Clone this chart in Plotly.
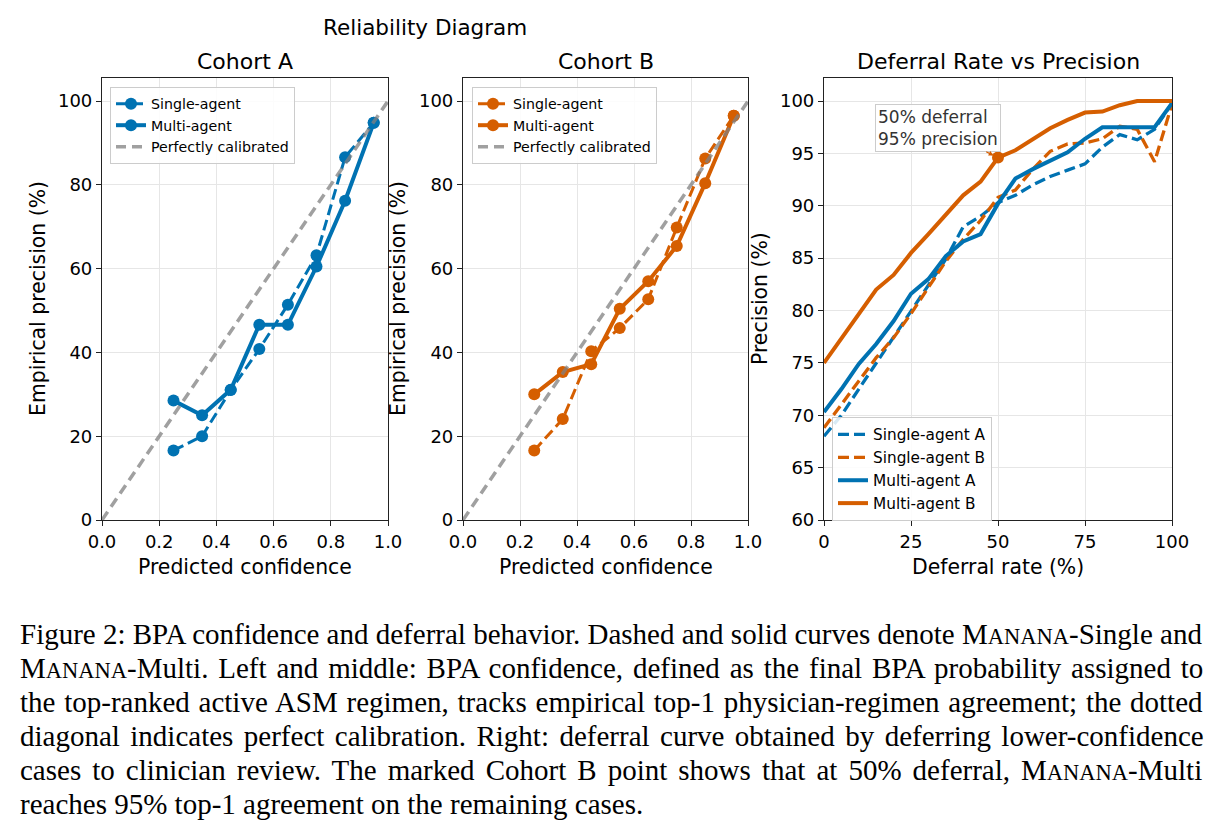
import plotly.graph_objects as go

# ---------------- data ----------------
confidence = [0.25, 0.35, 0.45, 0.55, 0.65, 0.75, 0.85, 0.95]
single_A = [16.6, 20.0, 31.0, 40.8, 51.4, 63.2, 86.6, 94.8]
multi_A = [28.5, 25.0, 31.1, 46.6, 46.6, 60.5, 76.2, 94.8]
single_B = [16.6, 24.1, 40.3, 45.8, 52.7, 69.8, 86.3, 96.5]
multi_B = [30.0, 35.3, 37.2, 50.4, 57.0, 65.4, 80.4, 96.5]
diag_x = [0.0, 1.0]
diag_y = [0.0, 100.0]

deferral = [0, 5, 10, 15, 20, 25, 30, 35, 40, 45, 50, 55, 60, 65, 70, 75, 80, 85, 90, 95, 100]
def_single_A = [68.0, 70.0, 72.5, 75.0, 77.4, 80.0, 82.5, 84.9, 88.0, 89.0, 90.3, 91.0, 92.0, 92.8, 93.4, 94.0, 95.6, 96.8, 96.3, 97.3, 99.8]
def_single_B = [68.8, 71.0, 73.3, 75.5, 77.4, 79.7, 82.2, 84.7, 86.8, 88.6, 90.8, 91.5, 93.5, 95.2, 95.9, 96.0, 96.4, 97.6, 97.3, 94.2, 99.7]
def_multi_A = [70.3, 72.5, 74.9, 76.8, 79.0, 81.6, 83.0, 85.2, 86.6, 87.3, 90.2, 92.6, 93.5, 94.3, 95.1, 96.4, 97.5, 97.5, 97.5, 97.5, 99.8]
def_multi_B = [75.0, 77.3, 79.6, 82.0, 83.4, 85.5, 87.3, 89.2, 91.0, 92.3, 94.6, 95.3, 96.4, 97.4, 98.2, 98.9, 99.0, 99.6, 100.0, 100.0, 100.0]
marked_x = [50]
marked_y = [94.6]

conf_ticks = [0.0, 0.2, 0.4, 0.6, 0.8, 1.0]
prec_ticks = [0, 20, 40, 60, 80, 100]
def_ticks = [0, 25, 50, 75, 100]
def_prec_ticks = [60, 65, 70, 75, 80, 85, 90, 95, 100]

SC = "<span style='font-size:22.5px'>ANANA</span>"
caption_lines = [
    "Figure 2: BPA confidence and deferral behavior. Dashed and solid curves denote M" + SC + "-Single and",
    "M" + SC + "-Multi. Left and middle: BPA confidence, defined as the final BPA probability assigned to",
    "the top-ranked active ASM regimen, tracks empirical top-1 physician-regimen agreement; the dotted",
    "diagonal indicates perfect calibration. Right: deferral curve obtained by deferring lower-confidence",
    "cases to clinician review. The marked Cohort B point shows that at 50% deferral, M" + SC + "-Multi",
    "reaches 95% top-1 agreement on the remaining cases.",
]
caption_word_spacing = [0.0, 2.6, 1.5, 3.2, 3.8, 0.0]

# ---------------- styling ----------------
W, H = 1219, 831
BLUE = "#0072B2"
ORANGE = "#D55E00"
GRAY = "rgba(128,128,128,0.75)"
FONT = "DejaVu Sans"
DASH = "11px,5px"

def fx(p):
    return p / W

def fy(p):
    return 1 - p / H

fig = go.Figure()

def add_rel(xa, ya, leg, color, s, m):
    fig.add_trace(go.Scatter(x=confidence, y=s, mode="lines+markers", name="Single-agent",
                             line=dict(color=color, width=3, dash=DASH), marker=dict(size=12, color=color),
                             xaxis=xa, yaxis=ya, legend=leg))
    fig.add_trace(go.Scatter(x=confidence, y=m, mode="lines+markers", name="Multi-agent",
                             line=dict(color=color, width=4), marker=dict(size=12, color=color),
                             xaxis=xa, yaxis=ya, legend=leg))
    fig.add_trace(go.Scatter(x=diag_x, y=diag_y, mode="lines", name="Perfectly calibrated",
                             line=dict(color=GRAY, width=3.5, dash="10px,6px"),
                             xaxis=xa, yaxis=ya, legend=leg))

add_rel("x", "y", "legend", BLUE, single_A, multi_A)
add_rel("x2", "y2", "legend2", ORANGE, single_B, multi_B)

fig.add_trace(go.Scatter(x=deferral, y=def_single_A, mode="lines", name="Single-agent A",
                         line=dict(color=BLUE, width=3.3, dash=DASH), xaxis="x3", yaxis="y3", legend="legend3"))
fig.add_trace(go.Scatter(x=deferral, y=def_single_B, mode="lines", name="Single-agent B",
                         line=dict(color=ORANGE, width=3.3, dash=DASH), xaxis="x3", yaxis="y3", legend="legend3"))
fig.add_trace(go.Scatter(x=deferral, y=def_multi_A, mode="lines", name="Multi-agent A",
                         line=dict(color=BLUE, width=4), xaxis="x3", yaxis="y3", legend="legend3"))
fig.add_trace(go.Scatter(x=deferral, y=def_multi_B, mode="lines", name="Multi-agent B",
                         line=dict(color=ORANGE, width=4), xaxis="x3", yaxis="y3", legend="legend3"))
fig.add_trace(go.Scatter(x=marked_x, y=marked_y, mode="markers", showlegend=False,
                         marker=dict(size=12, color=ORANGE), xaxis="x3", yaxis="y3"))

axis_common = dict(showline=True, mirror=True, linecolor="#222222", linewidth=1.2,
                   ticks="outside", ticklen=5, tickwidth=1.2, tickcolor="#222222",
                   showgrid=True, gridcolor="#e6e6e6", gridwidth=1, zeroline=False,
                   automargin=False,
                   tickfont=dict(family=FONT, size=18, color="black"))

ydom = [fy(520), fy(78)]
fig.update_layout(
    width=W, height=H, margin=dict(l=0, r=0, t=0, b=0, pad=0, autoexpand=False),
    paper_bgcolor="white", plot_bgcolor="white",
    font=dict(family=FONT, color="black"),
    xaxis=dict(domain=[fx(102), fx(388)], range=[0, 1], tickvals=conf_ticks, tickformat=".1f", anchor="y", **axis_common),
    yaxis=dict(domain=ydom, range=[0, 105.5], tickvals=prec_ticks, anchor="x", **axis_common),
    xaxis2=dict(domain=[fx(463), fx(748)], range=[0, 1], tickvals=conf_ticks, tickformat=".1f", anchor="y2", **axis_common),
    yaxis2=dict(domain=ydom, range=[0, 105.5], tickvals=prec_ticks, anchor="x2", **axis_common),
    xaxis3=dict(domain=[fx(824), fx(1172)], range=[0, 100], tickvals=def_ticks, anchor="y3", **axis_common),
    yaxis3=dict(domain=ydom, range=[60, 102.2], tickvals=def_prec_ticks, anchor="x3", **axis_common),
)

leg_common = dict(bgcolor="rgba(255,255,255,0.85)", bordercolor="#cccccc", borderwidth=1,
                  xanchor="left", yanchor="top", tracegroupgap=0, itemwidth=30)
fig.update_layout(
    legend=dict(x=fx(110), y=fy(87), font=dict(family=FONT, size=14.2, color="black"), **leg_common),
    legend2=dict(x=fx(472), y=fy(87), font=dict(family=FONT, size=14.2, color="black"), **leg_common),
    legend3=dict(x=fx(832), y=fy(417), font=dict(family=FONT, size=15.3, color="black"), **leg_common),
)

ann = []
def text(x, y, t, size, angle=0, family=FONT, xanchor="center", color="black"):
    ann.append(dict(x=fx(x), y=fy(y), xref="paper", yref="paper", text=t, showarrow=False,
                    font=dict(family=family, size=size, color=color), textangle=angle,
                    xanchor=xanchor, yanchor="middle"))

text(425, 28, "Reliability Diagram", 21.5)
text(245, 62, "Cohort A", 22)
text(606, 62, "Cohort B", 22)
text(998, 62, "Deferral Rate vs Precision", 22)
text(245, 567, "Predicted confidence", 20.4)
text(606, 567, "Predicted confidence", 20.4)
text(998, 567, "Deferral rate (%)", 20.4)
text(38, 299, "Empirical precision (%)", 20.4, angle=-90)
text(398, 299, "Empirical precision (%)", 20.4, angle=-90)
text(760, 299, "Precision (%)", 20.4, angle=-90)

for i, line in enumerate(caption_lines):
    ws = caption_word_spacing[i]
    t = "<span style='word-spacing:%.1fpx'>%s</span>" % (ws, line) if ws else line
    text(18, 634 + 34 * i, t, 29, family="Liberation Serif", xanchor="left")

ann.append(dict(x=50, y=94.6, xref="x3", yref="y3", ax=32.9, ay=97.4, axref="x3", ayref="y3",
                text="50% deferral<br>95% precision", align="left", showarrow=True,
                arrowhead=2, arrowsize=0.8, arrowwidth=1.2, arrowcolor=ORANGE, standoff=5,
                font=dict(family=FONT, size=17, color="#333333"),
                bgcolor="rgba(255,255,255,0.85)", bordercolor="#cccccc", borderwidth=1, borderpad=2))

fig.update_layout(annotations=ann)
fig.write_html("out.html")
